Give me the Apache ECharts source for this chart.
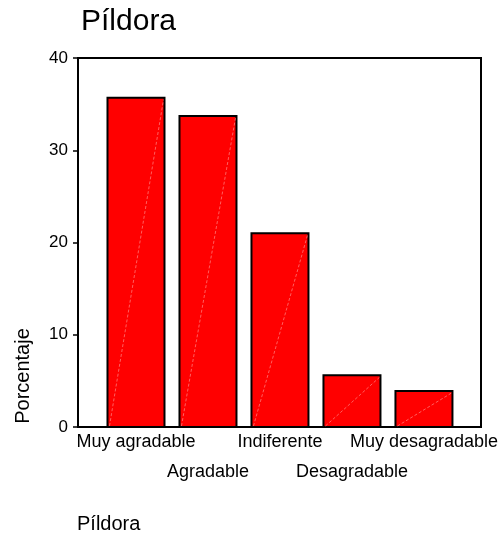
<!DOCTYPE html>
<html>
<head>
<meta charset="utf-8">
<script src="https://cdn.jsdelivr.net/npm/echarts@6/dist/echarts.min.js"></script>
<style>
	html, body { margin: 0; padding: 0; background: #fff; }
	#chart { width: 501px; height: 539px; }
</style>
</head>
<body>
<div id="chart"></div>
<script>
//////////// 데이터 ////////////
var categorias = ['Muy agradable', 'Agradable', 'Indiferente', 'Desagradable', 'Muy desagradable'];
var porcentajes = [35.7, 33.7, 21.0, 5.6, 3.9];
var ticksY = [0, 10, 20, 30, 40];

var fuente = 'Liberation Sans, Arial, sans-serif';

//////////// 차트 ////////////
showChart();

function showChart() {
	var chart = echarts.init(document.getElementById('chart'));

	// barra roja con borde negro y la línea diagonal clara
	function renderBar(params, api) {
		var base = api.coord([api.value(0), 0]);
		var top = api.coord([api.value(0), api.value(1)]);
		var w = 57;
		var x0 = base[0] - w / 2;
		return {
			type: 'group',
			children: [
				{
					type: 'rect',
					shape: { x: x0, y: top[1], width: w, height: base[1] - top[1] },
					style: { fill: '#ff0000', stroke: '#000', lineWidth: 2 }
				},
				{
					type: 'line',
					shape: { x1: x0 + 2, y1: base[1] - 1, x2: x0 + w - 1, y2: top[1] + 2 },
					style: { stroke: 'rgba(255,170,170,0.8)', lineWidth: 0.7, lineDash: [3, 2] }
				}
			]
		};
	}

	var option = {
		animation: false,
		backgroundColor: '#fff',
		title: [
			{
				text: 'Píldora',
				left: 76,
				top: 2,
				textStyle: { fontFamily: fuente, fontSize: 30, fontWeight: 'normal', color: '#000' }
			},
			{
				text: 'Píldora',
				left: 77,
				top: 514,
				padding: 0,
				textStyle: { fontFamily: fuente, fontSize: 20, fontWeight: 'normal', color: '#000' }
			}
		],
		graphic: [
			{
				type: 'text',
				x: 23,
				y: 376,
				rotation: Math.PI / 2,
				style: {
					text: 'Porcentaje',
					font: '20px ' + fuente,
					fill: '#000',
					align: 'center',
					verticalAlign: 'middle'
				}
			}
		],
		grid: [
			{ left: 78, right: 20, top: 58, bottom: 112, show: true, borderColor: '#000', borderWidth: 2 },
			{ left: 100, width: 360, top: 58, bottom: 112 }
		],
		xAxis: [
			{ gridIndex: 0, type: 'value', min: 0, max: 1, show: false },
			{
				gridIndex: 1,
				type: 'category',
				data: categorias,
				axisLine: { show: false },
				axisTick: { alignWithLabel: true, length: 5, lineStyle: { color: '#000', width: 1.5 } },
				axisLabel: {
					interval: 0,
					margin: 0,
					color: '#000',
					fontFamily: fuente,
					fontSize: 18,
					lineHeight: 30,
					formatter: function(v, i) {
						return i % 2 ? '\n' + v : v;
					}
				}
			}
		],
		yAxis: [
			{
				gridIndex: 0,
				type: 'value',
				min: ticksY[0],
				max: ticksY[ticksY.length - 1],
				interval: 10,
				splitLine: { show: false },
				axisLine: { show: true, lineStyle: { color: '#000', width: 2 } },
				axisTick: { show: true, length: 5, lineStyle: { color: '#000', width: 1.5 } },
				axisLabel: { color: '#000', fontFamily: fuente, fontSize: 17, margin: 10 }
			},
			{ gridIndex: 1, type: 'value', min: ticksY[0], max: ticksY[ticksY.length - 1], show: false }
		],
		series: [
			{
				type: 'custom',
				xAxisIndex: 1,
				yAxisIndex: 1,
				renderItem: renderBar,
				data: porcentajes.map(function(v, i) { return [i, v]; })
			}
		]
	};

	chart.setOption(option);
}
</script>
</body>
</html>
